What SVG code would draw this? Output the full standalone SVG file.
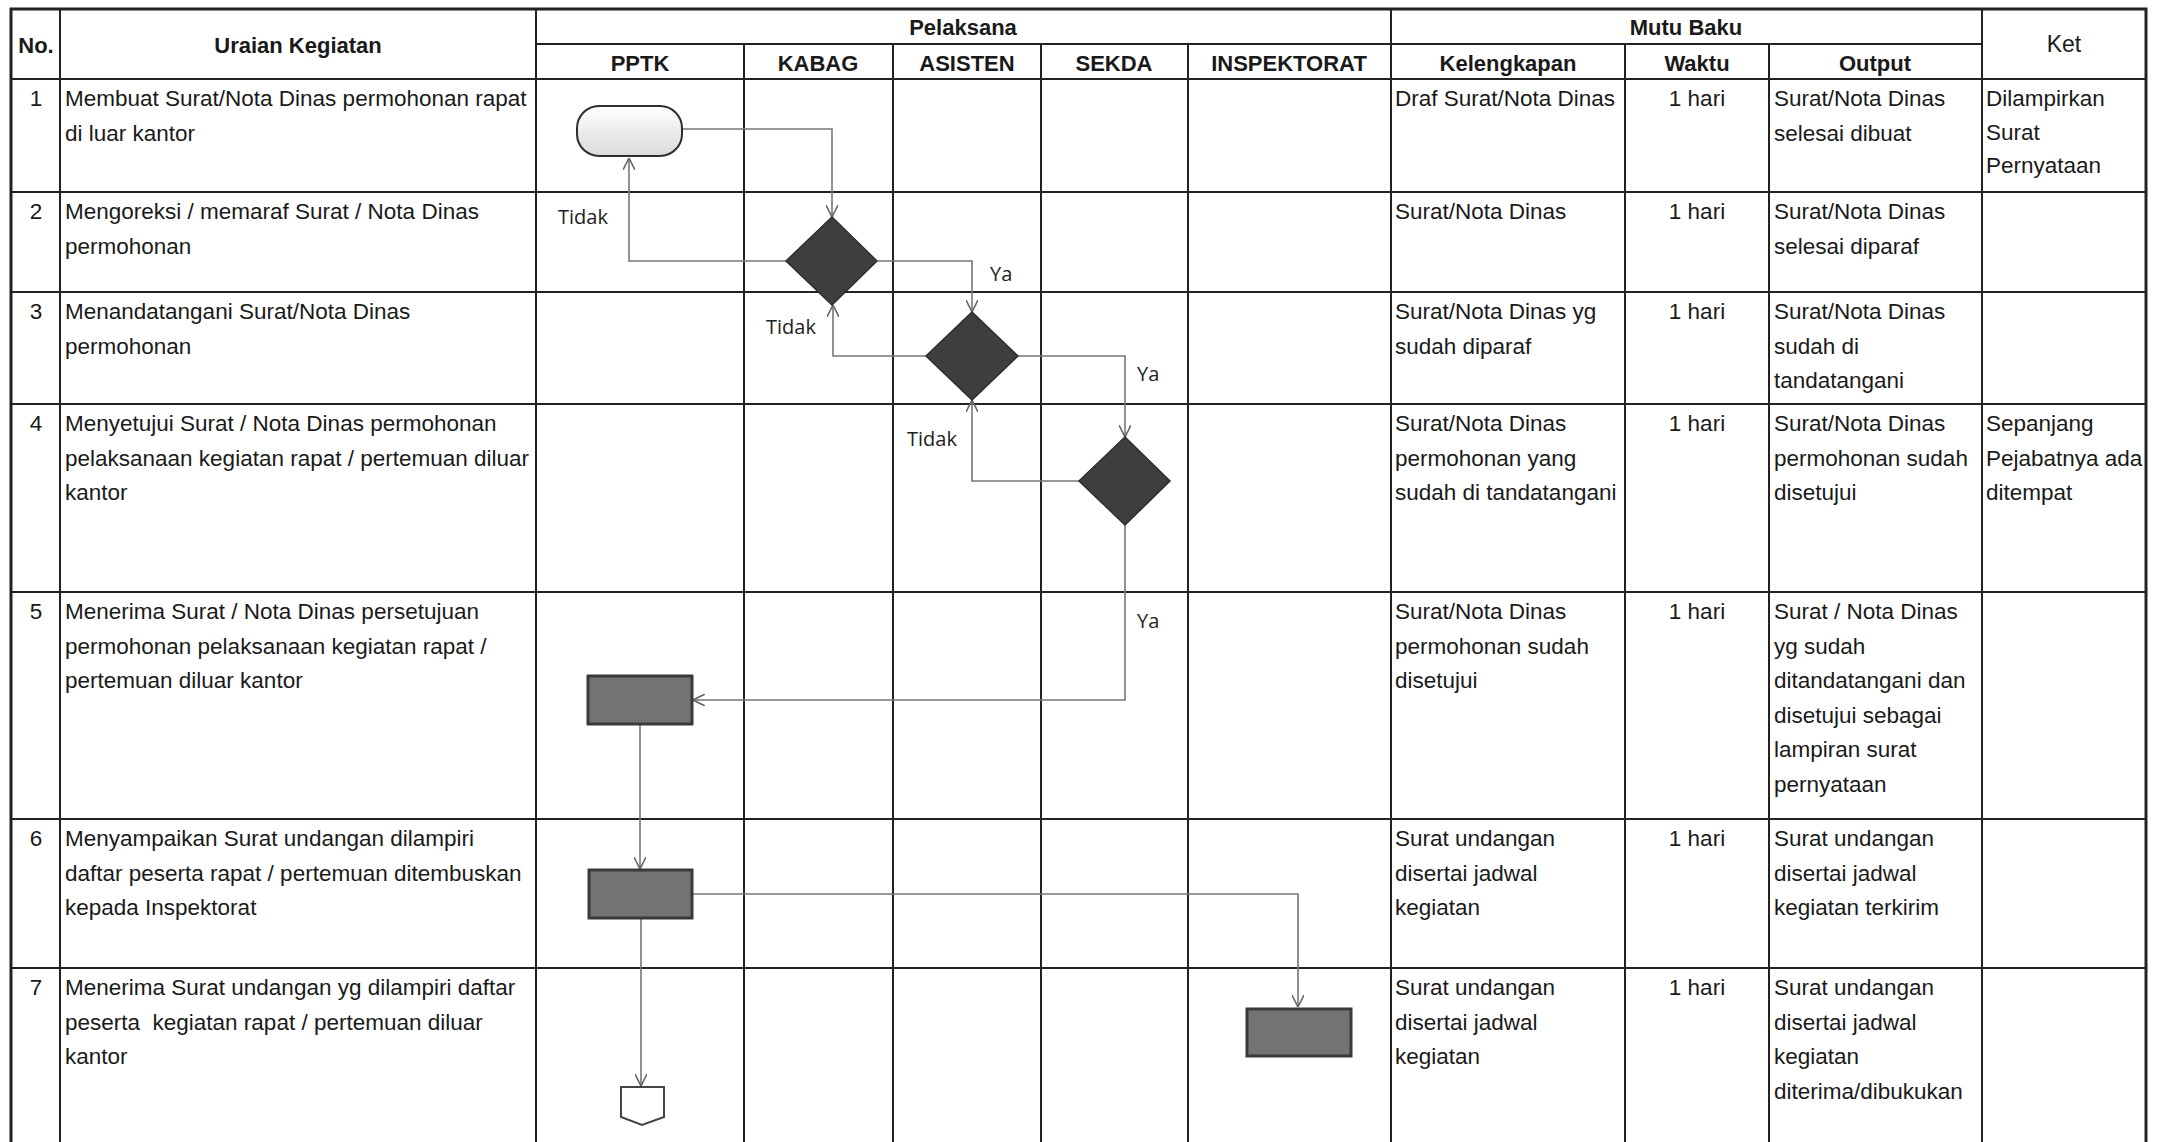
<svg xmlns="http://www.w3.org/2000/svg" width="2164" height="1142" viewBox="0 0 2164 1142">
<style>
.t{font-family:"Liberation Sans",Arial,sans-serif;font-size:22.5px;fill:#1a1a1a}
.h{font-family:"Liberation Sans",Arial,sans-serif;font-size:22px;font-weight:bold;fill:#1a1a1a;text-anchor:middle}
.c{text-anchor:middle}
.lbl{font-family:"Open Sans","DejaVu Sans",sans-serif;font-size:20px;fill:#222}
.g{stroke:#222;stroke-width:2;fill:none}
.ob{stroke:#222;stroke-width:3;fill:none}
.con{stroke:#777;stroke-width:1.6;fill:none;marker-end:url(#arr)}
.proc{fill:#737373;stroke:#3a3a3a;stroke-width:3}
.dec{fill:#3e3e3e;stroke:#2e2e2e;stroke-width:1.5}
</style>
<defs>
<marker id="arr" viewBox="0 0 12 12" refX="12" refY="6" markerWidth="12" markerHeight="12" markerUnits="userSpaceOnUse" orient="auto">
<path d="M0,0 L12,6 L0,12" fill="none" stroke="#666" stroke-width="1.6"/>
</marker>
<linearGradient id="term" x1="0" y1="0" x2="0" y2="1">
<stop offset="0" stop-color="#ffffff"/>
<stop offset="1" stop-color="#dadada"/>
</linearGradient>
</defs>
<rect width="2164" height="1142" fill="#fff"/>
<g id="table">
<path class="g" d="M536,44 H1982 M11,79 H2146 M11,192 H2146 M11,292 H2146 M11,404 H2146 M11,592 H2146 M11,819 H2146 M11,968 H2146"/>
<path class="g" d="M60,9 V1142 M536,9 V1142 M744,44 V1142 M893,44 V1142 M1041,44 V1142 M1188,44 V1142 M1391,9 V1142 M1625,44 V1142 M1769,44 V1142 M1982,9 V1142"/>
<path class="ob" d="M11,1142 V9 H2146 V1142"/>
</g>
<g id="headers">
<text class="h" x="36" y="53">No.</text>
<text class="h" x="298" y="53">Uraian Kegiatan</text>
<text class="h" x="963" y="35">Pelaksana</text>
<text class="h" x="640" y="71">PPTK</text>
<text class="h" x="818" y="71">KABAG</text>
<text class="h" x="967" y="71">ASISTEN</text>
<text class="h" x="1114" y="71">SEKDA</text>
<text class="h" x="1289" y="71">INSPEKTORAT</text>
<text class="h" x="1686" y="35">Mutu Baku</text>
<text class="h" x="1508" y="71">Kelengkapan</text>
<text class="h" x="1697" y="71">Waktu</text>
<text class="h" x="1875" y="71">Output</text>
<text class="t c" x="2064" y="52" style="font-size:23px">Ket</text>
</g>
<g id="row1">
<text class="t c" x="36" y="106">1</text>
<text class="t" x="65" y="106"><tspan x="65">Membuat Surat/Nota Dinas permohonan rapat</tspan><tspan x="65" dy="34.5">di luar kantor</tspan></text>
<text class="t" x="1395" y="106">Draf Surat/Nota Dinas</text>
<text class="t c" x="1697" y="106">1 hari</text>
<text class="t" x="1774" y="106"><tspan x="1774">Surat/Nota Dinas</tspan><tspan x="1774" dy="34.5">selesai dibuat</tspan></text>
<text class="t" x="1986" y="106"><tspan x="1986">Dilampirkan</tspan><tspan x="1986" dy="33.5">Surat</tspan><tspan x="1986" dy="33.5">Pernyataan</tspan></text>
</g>
<g id="row2">
<text class="t c" x="36" y="219">2</text>
<text class="t" x="65" y="219"><tspan x="65">Mengoreksi / memaraf Surat / Nota Dinas</tspan><tspan x="65" dy="34.5">permohonan</tspan></text>
<text class="t" x="1395" y="219">Surat/Nota Dinas</text>
<text class="t c" x="1697" y="219">1 hari</text>
<text class="t" x="1774" y="219"><tspan x="1774">Surat/Nota Dinas</tspan><tspan x="1774" dy="34.5">selesai diparaf</tspan></text>
</g>
<g id="row3">
<text class="t c" x="36" y="319">3</text>
<text class="t" x="65" y="319"><tspan x="65">Menandatangani Surat/Nota Dinas</tspan><tspan x="65" dy="34.5">permohonan</tspan></text>
<text class="t" x="1395" y="319"><tspan x="1395">Surat/Nota Dinas yg</tspan><tspan x="1395" dy="34.5">sudah diparaf</tspan></text>
<text class="t c" x="1697" y="319">1 hari</text>
<text class="t" x="1774" y="319"><tspan x="1774">Surat/Nota Dinas</tspan><tspan x="1774" dy="34.5">sudah di</tspan><tspan x="1774" dy="34.5">tandatangani</tspan></text>
</g>
<g id="row4">
<text class="t c" x="36" y="431">4</text>
<text class="t" x="65" y="431"><tspan x="65">Menyetujui Surat / Nota Dinas permohonan</tspan><tspan x="65" dy="34.5">pelaksanaan kegiatan rapat / pertemuan diluar</tspan><tspan x="65" dy="34.5">kantor</tspan></text>
<text class="t" x="1395" y="431"><tspan x="1395">Surat/Nota Dinas</tspan><tspan x="1395" dy="34.5">permohonan yang</tspan><tspan x="1395" dy="34.5">sudah di tandatangani</tspan></text>
<text class="t c" x="1697" y="431">1 hari</text>
<text class="t" x="1774" y="431"><tspan x="1774">Surat/Nota Dinas</tspan><tspan x="1774" dy="34.5">permohonan sudah</tspan><tspan x="1774" dy="34.5">disetujui</tspan></text>
<text class="t" x="1986" y="431"><tspan x="1986">Sepanjang</tspan><tspan x="1986" dy="34.5">Pejabatnya ada</tspan><tspan x="1986" dy="34.5">ditempat</tspan></text>
</g>
<g id="row5">
<text class="t c" x="36" y="619">5</text>
<text class="t" x="65" y="619"><tspan x="65">Menerima Surat / Nota Dinas persetujuan</tspan><tspan x="65" dy="34.5">permohonan pelaksanaan kegiatan rapat /</tspan><tspan x="65" dy="34.5">pertemuan diluar kantor</tspan></text>
<text class="t" x="1395" y="619"><tspan x="1395">Surat/Nota Dinas</tspan><tspan x="1395" dy="34.5">permohonan sudah</tspan><tspan x="1395" dy="34.5">disetujui</tspan></text>
<text class="t c" x="1697" y="619">1 hari</text>
<text class="t" x="1774" y="619"><tspan x="1774">Surat / Nota Dinas</tspan><tspan x="1774" dy="34.5">yg sudah</tspan><tspan x="1774" dy="34.5">ditandatangani dan</tspan><tspan x="1774" dy="34.5">disetujui sebagai</tspan><tspan x="1774" dy="34.5">lampiran surat</tspan><tspan x="1774" dy="34.5">pernyataan</tspan></text>
</g>
<g id="row6">
<text class="t c" x="36" y="846">6</text>
<text class="t" x="65" y="846"><tspan x="65">Menyampaikan Surat undangan dilampiri</tspan><tspan x="65" dy="34.5">daftar peserta rapat / pertemuan ditembuskan</tspan><tspan x="65" dy="34.5">kepada Inspektorat</tspan></text>
<text class="t" x="1395" y="846"><tspan x="1395">Surat undangan</tspan><tspan x="1395" dy="34.5">disertai jadwal</tspan><tspan x="1395" dy="34.5">kegiatan</tspan></text>
<text class="t c" x="1697" y="846">1 hari</text>
<text class="t" x="1774" y="846"><tspan x="1774">Surat undangan</tspan><tspan x="1774" dy="34.5">disertai jadwal</tspan><tspan x="1774" dy="34.5">kegiatan terkirim</tspan></text>
</g>
<g id="row7">
<text class="t c" x="36" y="995">7</text>
<text class="t" x="65" y="995" xml:space="preserve"><tspan x="65">Menerima Surat undangan yg dilampiri daftar</tspan><tspan x="65" dy="34.5">peserta  kegiatan rapat / pertemuan diluar</tspan><tspan x="65" dy="34.5">kantor</tspan></text>
<text class="t" x="1395" y="995"><tspan x="1395">Surat undangan</tspan><tspan x="1395" dy="34.5">disertai jadwal</tspan><tspan x="1395" dy="34.5">kegiatan</tspan></text>
<text class="t c" x="1697" y="995">1 hari</text>
<text class="t" x="1774" y="995"><tspan x="1774">Surat undangan</tspan><tspan x="1774" dy="34.5">disertai jadwal</tspan><tspan x="1774" dy="34.5">kegiatan</tspan><tspan x="1774" dy="34.5">diterima/dibukukan</tspan></text>
</g>
<g id="connectors">
<path class="con" d="M682,129 H832 V217"/>
<path class="con" d="M786,261 H629 V158"/>
<path class="con" d="M877,261 H972 V312"/>
<path class="con" d="M926,356 H833 V305"/>
<path class="con" d="M1018,356 H1125 V437"/>
<path class="con" d="M1079,481 H972 V400"/>
<path class="con" d="M1125,525 V700 H693"/>
<path class="con" d="M640,725 V869"/>
<path class="con" d="M693,894 H1298 V1007"/>
<path class="con" d="M641,919 V1086"/>
<text class="lbl" x="558" y="224">Tidak</text>
<text class="lbl" x="990" y="281">Ya</text>
<text class="lbl" x="766" y="334">Tidak</text>
<text class="lbl" x="1137" y="381">Ya</text>
<text class="lbl" x="907" y="446">Tidak</text>
<text class="lbl" x="1137" y="628">Ya</text>
</g>
<g id="start"><rect x="577" y="106" width="105" height="50" rx="22" ry="22" fill="url(#term)" stroke="#2e2e2e" stroke-width="2"/></g>
<g id="decision1"><polygon class="dec" points="832,217 877,261 832,305 786,261"/></g>
<g id="decision2"><polygon class="dec" points="972,312 1018,356 972,400 926,356"/></g>
<g id="decision3"><polygon class="dec" points="1125,437 1170,481 1125,525 1079,481"/></g>
<g id="process1"><rect class="proc" x="588" y="676" width="104" height="48"/></g>
<g id="process2"><rect class="proc" x="589" y="870" width="103" height="48"/></g>
<g id="process3"><rect class="proc" x="1247" y="1009" width="104" height="47"/></g>
<g id="offpage"><polygon points="621,1087 664,1087 664,1117 642,1125 621,1117" fill="#fff" stroke="#444" stroke-width="2"/></g>
</svg>
